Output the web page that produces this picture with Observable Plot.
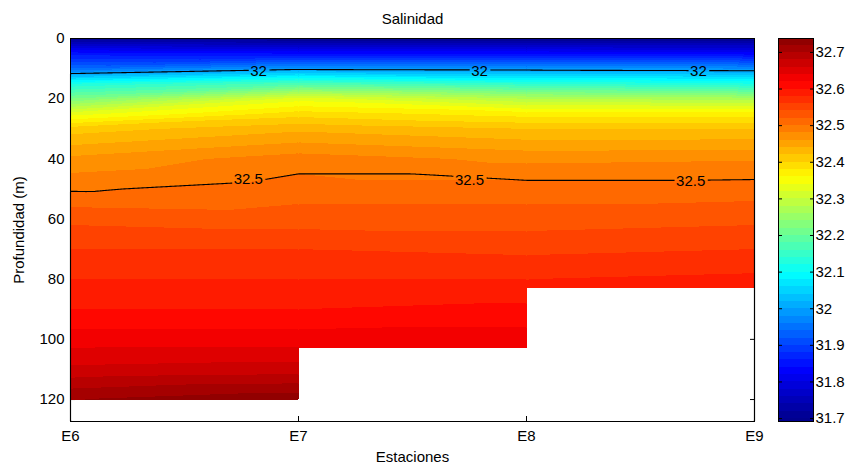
<!DOCTYPE html>
<html><head><meta charset="utf-8">
<script src="https://cdn.jsdelivr.net/npm/d3@7"></script>
<script src="https://cdn.jsdelivr.net/npm/@observablehq/plot@0.6"></script>
<style>
body{margin:0;background:#fff;}
#wrap{position:relative;width:850px;height:465px;overflow:hidden;font-family:"Liberation Sans",Arial,sans-serif;}
#main{position:absolute;left:0;top:0;width:770px;height:465px;}
#cbar{position:absolute;left:760px;top:0;width:90px;height:465px;}
#wrap svg{max-width:none !important;display:block;}
</style></head><body><div id="wrap"><div id="main"></div><div id="cbar"></div></div>
<script>
// ---- data ----
const title = "Salinidad";
const xLabel = "Estaciones";
const yLabel = "Profundidad (m)";
const stations = ["E6","E7","E8","E9"];
const depthE6 = [0,5,10,15,20,25,30,40,50,60,70,80,90,100,110,120];
const salE6   = [31.71,31.85,31.94,32.12,32.22,32.33,32.41,32.465,32.497,32.535,32.56,32.58,32.60,32.63,32.665,32.72];
const depthE7 = [0,5,10,15,20,25,30,40,50,60,70,80,90,100,110,120];
const salE7   = [31.70,31.84,31.99,32.17,32.33,32.39,32.435,32.49,32.51,32.53,32.56,32.58,32.60,32.63,32.67,32.735];
const depthE8 = [0,5,10,15,20,25,30,40,50,60,70,80,90,100,103];
const salE8   = [31.70,31.84,31.985,32.14,32.28,32.37,32.42,32.475,32.51,32.53,32.555,32.58,32.605,32.63,32.64];
const depthE9 = [0,5,10,15,20,25,30,40,50,60,70,80,83];
const salE9   = [31.70,31.83,31.98,32.12,32.27,32.37,32.42,32.478,32.51,32.535,32.56,32.585,32.59];
const isoLevels = [32, 32.5];
const labelLevels = [32, 32, 32, 32.5, 32.5, 32.5];
const labelAt     = [0.825, 1.794, 2.754, 0.78, 1.75, 2.72];
const yTicks = [0,20,40,60,80,100,120];
const colorTicks = [31.7,31.8,31.9,32,32.1,32.2,32.3,32.4,32.5,32.6,32.7];
const cmin = 31.692, cmax = 32.738, depthMax = 127.3, levelStep = 0.02;
const jetStops = [0, 0.125, 0.375, 0.625, 0.875, 1];
const jetColors = ["#00008f", "#0000ff", "#00ffff", "#ffff00", "#ff0000", "#800000"];

// ---- derived ----
const profiles = [[depthE6, salE6],[depthE7, salE7],[depthE8, salE8],[depthE9, salE9]];
const points = profiles.flatMap(([ds, vs], s) => ds.map((d, k) => ({s, depth: d, sal: vs[k]})));
const bottoms = profiles.map(([ds]) => ds[ds.length - 1]);
const intervals = d3.range(stations.length - 1).map(i => ({i, bottom: Math.min(bottoms[i], bottoms[i + 1])}));
const nLevels = Math.ceil((cmax - 31.68) / levelStep) + 1;
const levels = d3.range(nLevels).map(i => Math.round((31.68 + i * levelStep) * 1000) / 1000);

function crossing(s, level) {
  const [ds, vs] = profiles[s];
  for (let k = 0; k < vs.length - 1; k++) {
    if ((vs[k] - level) * (vs[k + 1] - level) <= 0) return ds[k] + (level - vs[k]) / (vs[k + 1] - vs[k]) * (ds[k + 1] - ds[k]);
  }
  return NaN;
}
const labels = labelAt.map((at, j) => {
  const level = labelLevels[j];
  const i = Math.min(Math.floor(at), stations.length - 2), f = at - i;
  return {at, level, depth: crossing(i, level) * (1 - f) + crossing(i + 1, level) * f, text: String(level)};
});

const colorScale = {type: "linear", domain: jetStops.map(t => cmin + t * (cmax - cmin)), range: jetColors, interpolate: "rgb", clamp: true};
const font = "'Liberation Sans', Arial, Helvetica, sans-serif";

const main = Plot.plot({
  width: 770, height: 465,
  marginLeft: 70, marginRight: 16, marginTop: 38, marginBottom: 44,
  style: {fontFamily: font, fontSize: "15px", background: "transparent", color: "#000"},
  x: {domain: [0, stations.length - 1]},
  y: {domain: [0, depthMax], reverse: true},
  color: colorScale,
  marks: [
    Plot.axisX({ticks: d3.range(stations.length), tickFormat: i => stations[i], tickSize: -5, tickPadding: 14,
      label: xLabel, labelAnchor: "center", labelOffset: 40, labelArrow: "none"}),
    Plot.axisX({anchor: "top", ticks: d3.range(stations.length), tickFormat: () => "", tickSize: -5, label: null}),
    Plot.axisY({ticks: yTicks, tickSize: -5, tickPadding: 11, label: yLabel, labelAnchor: "center", labelOffset: 57, labelArrow: "none"}),
    Plot.axisY({anchor: "right", ticks: yTicks, tickFormat: () => "", tickSize: -5, label: null}),
    ...intervals.map(({i, bottom}) => Plot.contour(
      points.filter(p => (p.s === i || p.s === i + 1) && p.depth <= bottom + 1e-9),
      {x: "s", y: "depth", fill: "sal", thresholds: levels, interpolate: "barycentric",
       x1: i, x2: i + 1, y1: 0, y2: bottom, pixelSize: 1, stroke: "none", shapeRendering: "crispEdges"})),
    Plot.contour(points, {x: "s", y: "depth", value: "sal", thresholds: isoLevels, interpolate: "barycentric",
      pixelSize: 1, stroke: "black", fill: "none", strokeWidth: 1.1, className: "isolines"}),
    Plot.text(labels, {x: "at", y: "depth", text: "text", fill: "black", fontSize: 15, lineAnchor: "middle", dy: 1, className: "clabels"}),
    Plot.frame({stroke: "black"}),
    Plot.text([title], {frameAnchor: "top", dy: -19, fontSize: 15, lineAnchor: "middle"})
  ]
});
document.getElementById("main").appendChild(main);

// break the contour lines where the labels sit (clabel style)
(function breakLines() {
  const ns = "http://www.w3.org/2000/svg";
  const lineG = main.querySelector("g.isolines") || [...main.querySelectorAll('g[aria-label="contour"]')].pop();
  const texts = main.querySelectorAll("g.clabels text");
  if (!lineG || !texts.length) return;
  const sb = main.getBoundingClientRect();
  const defs = document.createElementNS(ns, "defs");
  const mask = document.createElementNS(ns, "mask");
  mask.setAttribute("id", "labelmask");
  mask.setAttribute("maskUnits", "userSpaceOnUse");
  mask.setAttribute("x", 0); mask.setAttribute("y", 0);
  mask.setAttribute("width", main.getAttribute("width")); mask.setAttribute("height", main.getAttribute("height"));
  const bg = document.createElementNS(ns, "rect");
  bg.setAttribute("width", "100%"); bg.setAttribute("height", "100%"); bg.setAttribute("fill", "white");
  mask.appendChild(bg);
  texts.forEach(t => {
    const b = t.getBoundingClientRect();
    const r = document.createElementNS(ns, "rect");
    r.setAttribute("x", b.left - sb.left - 2); r.setAttribute("y", b.top - sb.top);
    r.setAttribute("width", b.width + 4); r.setAttribute("height", b.height);
    r.setAttribute("fill", "black");
    mask.appendChild(r);
  });
  defs.appendChild(mask);
  main.insertBefore(defs, main.firstChild);
  lineG.setAttribute("mask", "url(#labelmask)");
})();

const bands = levels.filter(l => l + levelStep > cmin && l < cmax)
  .map(l => ({level: l, lo: Math.max(l, cmin), hi: Math.min(l + levelStep, cmax)}));
const cbar = Plot.plot({
  width: 90, height: 465,
  marginLeft: 18, marginRight: 37, marginTop: 38, marginBottom: 44,
  style: {fontFamily: font, fontSize: "15px", background: "transparent", color: "#000"},
  y: {domain: [cmin, cmax]},
  color: colorScale,
  marks: [
    Plot.rect(bands, {y1: "lo", y2: "hi", fill: "level", shapeRendering: "crispEdges"}),
    Plot.axisY({anchor: "right", ticks: colorTicks, tickFormat: d => String(+d.toFixed(1)), tickSize: -4, tickPadding: 6, label: null}),
    Plot.axisY({anchor: "left", ticks: colorTicks, tickFormat: () => "", tickSize: -4, label: null}),
    Plot.frame({stroke: "black"})
  ]
});
document.getElementById("cbar").appendChild(cbar);
</script></body></html>
